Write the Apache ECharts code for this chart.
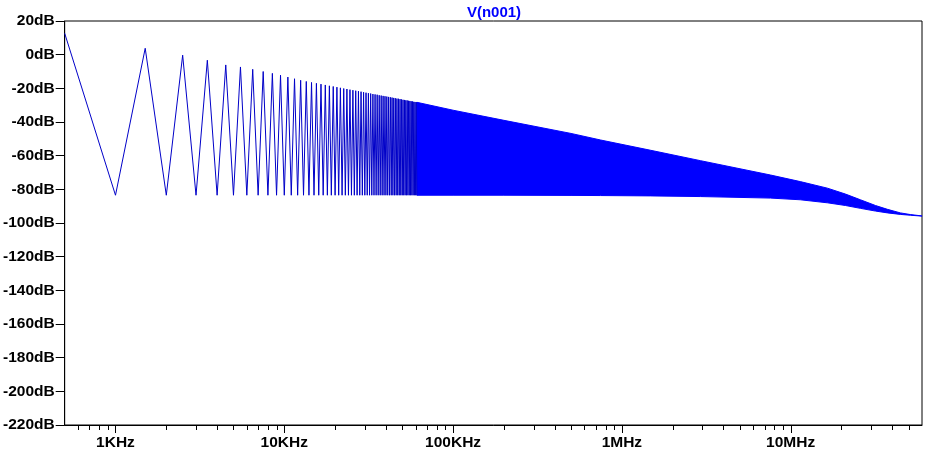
<!DOCTYPE html>
<html>
<head>
<meta charset="utf-8">
<script src="https://cdn.jsdelivr.net/npm/echarts@6/dist/echarts.min.js"></script>
<style>
html,body{margin:0;padding:0;background:#fff;}
#chart{width:925px;height:454px;}
</style>
</head>
<body>
<div id="chart"></div>
<script>
// ---- data ----
const titleText = 'V(n001)';
const startPoint = [500, 12.7];              // Hz, dB at left edge
const notchKHz = [1,2,3,4,5,6,7,8,9,10,11,12,13,14,15,16,17,18,19,20,21,22,23,24,25,26,27,28,29,30,
  31,32,33,34,35,36,37,38,39,40,41,42,43,44,45,46,47,48,49,50,51,52,53,54,55,56,57,58,59,60,61];
const notchDb = -83.5;
const peakKHz = [1.5,2.5,3.5,4.5,5.5,6.5,7.5,8.5,9.5,10.5,11.5,12.5,13.5,14.5,15.5,16.5,17.5,18.5,19.5,20.5,
  21.5,22.5,23.5,24.5,25.5,26.5,27.5,28.5,29.5,30.5,31.5,32.5,33.5,34.5,35.5,36.5,37.5,38.5,39.5,40.5,
  41.5,42.5,43.5,44.5,45.5,46.5,47.5,48.5,49.5,50.5,51.5,52.5,53.5,54.5,55.5,56.5,57.5,58.5,59.5,60.5];
const peakDb = [3.8,-0.3,-3.3,-6.1,-7.3,-8.7,-10.0,-11.1,-12.2,-13.3,-14.3,-15.2,-15.9,-16.5,-17.0,-17.5,-18.0,-18.5,-18.9,-19.3,
  -19.7,-20.1,-20.4,-20.8,-21.1,-21.4,-21.7,-22.0,-22.3,-22.6,-22.9,-23.1,-23.4,-23.6,-23.8,-24.1,-24.3,-24.5,-24.7,-24.9,
  -25.1,-25.3,-25.5,-25.7,-25.9,-26.1,-26.2,-26.4,-26.6,-26.8,-26.9,-27.1,-27.2,-27.4,-27.5,-27.7,-27.8,-28.0,-28.1,-28.2];
// dense (unresolved) part of the comb: upper and lower envelope
const bandFreqs = [61e3, 1e5, 2e5, 5e5, 7.48e5, 1.48e6, 2.93e6, 7.6e6, 1.14e7, 1.65e7, 2.11e7, 2.59e7, 3.18e7, 3.75e7, 4.47e7, 5.13e7, 6e7];
const bandUpper = [-28.3, -33.0, -39.0, -46.8, -50.7, -56.8, -63.0, -71.5, -75.4, -79.3, -82.8, -86.2, -89.6, -91.9, -94.0, -95.0, -95.8];
const bandLower = [-83.5, -83.5, -83.5, -83.6, -83.7, -83.9, -84.3, -85.2, -86.2, -88.0, -89.6, -91.3, -92.9, -94.0, -94.9, -95.4, -95.9];
// axes
const xMin = 500, xMax = 6e7;
const yMin = -220, yMax = 20, yStep = 20;
const xMajorValues = [1e3, 1e4, 1e5, 1e6, 1e7];
const xMajorLabels = ['1KHz', '10KHz', '100KHz', '1MHz', '10MHz'];
const xMinorValues = [600,700,800,900,
  2e3,3e3,4e3,5e3,6e3,7e3,8e3,9e3,
  2e4,3e4,4e4,5e4,6e4,7e4,8e4,9e4,
  2e5,3e5,4e5,5e5,6e5,7e5,8e5,9e5,
  2e6,3e6,4e6,5e6,6e6,7e6,8e6,9e6,
  2e7,3e7,4e7,5e7];

// ---- build series data ----
const zigzag = [startPoint];
for (let i = 0; i < notchKHz.length; i++) {
  zigzag.push([notchKHz[i] * 1000, notchDb]);
  if (i < peakKHz.length) zigzag.push([peakKHz[i] * 1000, peakDb[i]]);
}
const bandData = bandFreqs.map((f, i) => [f, bandUpper[i], bandLower[i]]);

const FONT = "'Liberation Sans', Arial, sans-serif";
const BLUE = '#0000ff';
const LINE_BLUE = '#0000c8';

function tickRenderer(len) {
  return function (params, api) {
    const p = api.coord([api.value(0), yMin]);
    const x = Math.round(p[0]) + 0.5;
    const y = Math.round(p[1]);
    return {
      type: 'line',
      shape: { x1: x, y1: y, x2: x, y2: y + len },
      style: { stroke: '#000', lineWidth: 1 }
    };
  };
}

const chart = echarts.init(document.getElementById('chart'), null, { renderer: 'canvas' });
chart.setOption({
  animation: false,
  backgroundColor: '#fff',
  title: {
    text: titleText,
    left: 489, top: 0, textAlign: 'center',
    textStyle: { color: BLUE, fontSize: 15, fontWeight: 'bold', fontFamily: FONT }
  },
  grid: {
    left: 63, right: 3, top: 21, bottom: 29,
    show: true, borderColor: '#000', borderWidth: 1, backgroundColor: 'transparent'
  },
  xAxis: {
    type: 'log', logBase: 10, min: xMin, max: xMax,
    axisLine: { show: true, onZero: false, lineStyle: { color: '#000', width: 1 } },
    axisTick: { show: false },
    splitLine: { show: false },
    minorTick: { show: false },
    axisLabel: {
      margin: 10,
      color: '#000', fontSize: 15.5, fontWeight: 'bold', fontFamily: FONT,
      showMinLabel: false, showMaxLabel: false,
      formatter: function (v) {
        for (let i = 0; i < xMajorValues.length; i++) {
          if (Math.abs(Math.log10(v) - Math.log10(xMajorValues[i])) < 1e-6) return xMajorLabels[i];
        }
        return '';
      }
    }
  },
  yAxis: {
    type: 'value', min: yMin, max: yMax, interval: yStep,
    axisLine: { show: true, onZero: false, lineStyle: { color: '#000', width: 1 } },
    axisTick: { show: true, length: 9, lineStyle: { color: '#000', width: 1 } },
    splitLine: { show: false },
    axisLabel: {
      margin: 10,
      color: '#000', fontSize: 15.5, fontWeight: 'bold', fontFamily: FONT,
      formatter: v => v + 'dB'
    }
  },
  series: [
    {
      name: 'band', type: 'custom', data: bandData,
      encode: { x: 0, y: 1 },
      renderItem: function (params, api) {
        if (params.dataIndex !== 0) return null;
        const pts = [];
        for (let i = 0; i < bandFreqs.length; i++) pts.push(api.coord([bandFreqs[i], bandUpper[i]]));
        for (let i = bandFreqs.length - 1; i >= 0; i--) pts.push(api.coord([bandFreqs[i], bandLower[i]]));
        return {
          type: 'polygon',
          shape: { points: pts, smooth: 0 },
          style: { fill: BLUE, stroke: BLUE, lineWidth: 1 }
        };
      },
      z: 2
    },
    {
      name: 'V(n001)', type: 'line', data: zigzag,
      showSymbol: false, symbol: 'none', sampling: null,
      lineStyle: { color: LINE_BLUE, width: 1 },
      z: 3
    },
    {
      name: 'majorTicks', type: 'custom', data: xMajorValues.map(v => [v, yMin]),
      encode: { x: 0, y: 1 }, clip: false, silent: true,
      renderItem: tickRenderer(8), z: 5
    },
    {
      name: 'minorTicks', type: 'custom', data: xMinorValues.map(v => [v, yMin]),
      encode: { x: 0, y: 1 }, clip: false, silent: true,
      renderItem: tickRenderer(5), z: 5
    }
  ]
});
</script>
</body>
</html>
